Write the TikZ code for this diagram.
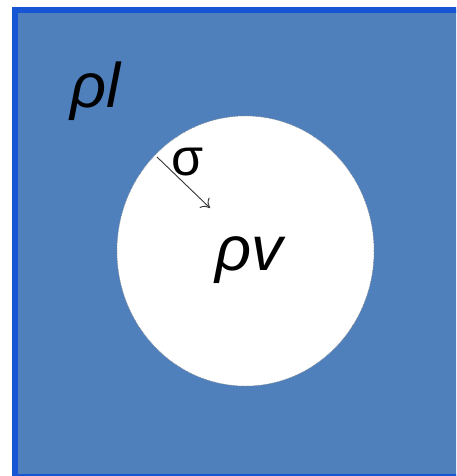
\documentclass[tikz,border=0pt]{standalone}
\usepackage{fontspec}
\setmainfont{Liberation Sans}
\usetikzlibrary{arrows.meta}
\definecolor{liquidblue}{RGB}{79,128,188}
\definecolor{edgeblue}{RGB}{22,86,212}
\begin{document}
\begin{tikzpicture}[x=1pt, y=-1pt, every node/.style={inner sep=0pt, font=\fontsize{63}{66}\selectfont}]
        \useasboundingbox (0,0) rectangle (456,476);
        \clip (0,0) rectangle (456,476);
        \fill[white] (0,0) rectangle (456,476);
        \draw[color = edgeblue, fill = liquidblue, line width = 6pt] (15,10) rectangle (520,477);
        \draw[color = gray, fill = white, densely dotted, line width = 0.6pt] (245.5,251) ellipse [x radius=128.5, y radius=135];
        \node[anchor = base west] (liquid) at (70,108) {\itshape ρl};
        \node[anchor = base west] (vapour) at (215,270) {\itshape ρv};
        \node[anchor = base, font = \fontsize{52}{56}\selectfont] (sigma) at (188,175) {σ};
        \coordinate (rim) at (157,157);
        \coordinate (tip) at (210,208);
        \draw[color = black!80, line width = 0.9pt, -{To[length=8pt,width=14pt]}] (rim) -- (tip);
        \end{tikzpicture}
\end{document}
